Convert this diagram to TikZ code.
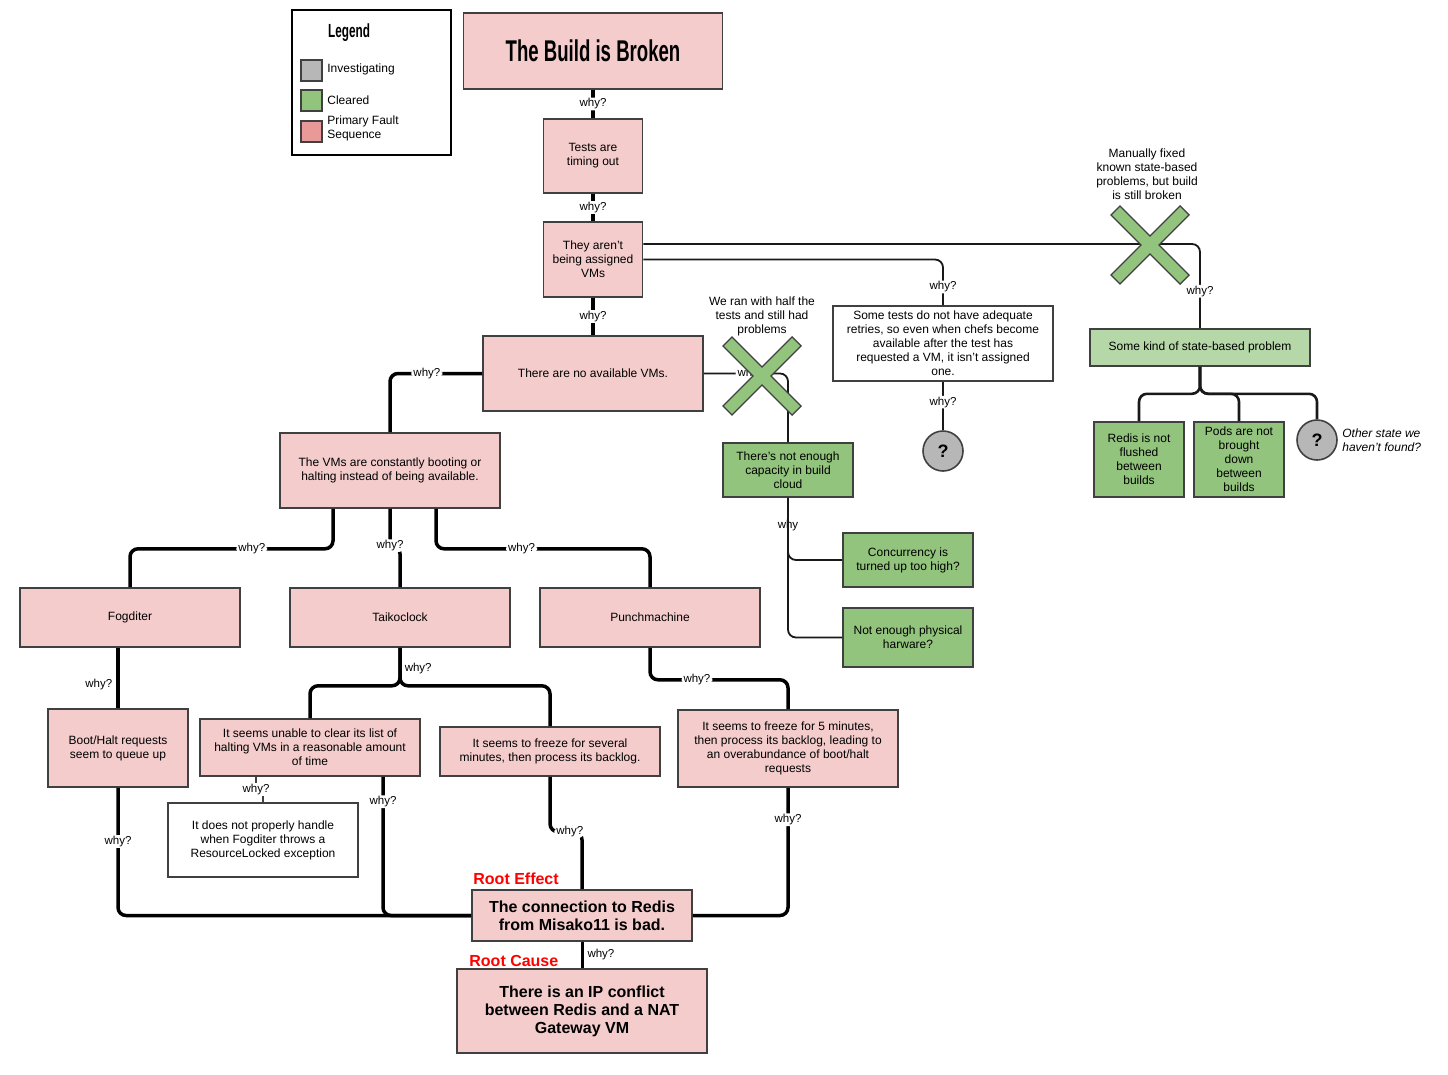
\documentclass[tikz,border=0pt]{standalone}
\usepackage{fontspec}
\setmainfont{Liberation Sans}
\newfontfamily\condfont[FakeStretch=0.62]{Liberation Sans}
\usepackage{tikz}
\usetikzlibrary{positioning}
\definecolor{faultpink}{HTML}{F4CCCC}
\definecolor{legendpink}{HTML}{EA9999}
\definecolor{clearedgreen}{HTML}{93C47D}
\definecolor{stategreen}{HTML}{B6D7A8}
\definecolor{investgrey}{HTML}{B7B7B7}
\definecolor{boxline}{HTML}{404040}
\definecolor{rootred}{HTML}{FF0000}
\def\boxfont{\fontsize{12}{14}\selectfont}
\def\whyfont{\fontsize{11.5}{14}\selectfont}
\def\boldfont{\bfseries\fontsize{16}{18}\selectfont}
\def\whyd{why?}
\tikzstyle{fault}=[draw=boxline, fill=faultpink, line width=1.6pt, align=center, inner sep=2pt, font=\boxfont]
\tikzstyle{cleared}=[fault, fill=clearedgreen]
\tikzstyle{plainbox}=[fault, fill=white]
\tikzstyle{unknown}=[circle, draw=boxline, fill=investgrey, line width=1.6pt, minimum size=40pt, inner sep=0pt, font=\bfseries\fontsize{18}{18}\selectfont]
\tikzstyle{why}=[fill=white, inner xsep=2pt, inner ysep=1pt, font=\whyfont]
\tikzstyle{mainline}=[draw=black, line width=3.5pt, rounded corners=8pt]
\tikzstyle{sideline}=[draw=black!90, line width=1.8pt, rounded corners=8pt]
\tikzstyle{swatch}=[draw=boxline, line width=1.6pt, minimum size=21pt, inner sep=0pt]
\begin{document}
\begin{tikzpicture}[x=1pt, y=-1pt, font=\boxfont]
  % \draw[help lines, step=50] (0,0) grid (1448,1074);
  \useasboundingbox (0,0) rectangle (1448,1074);

  % legend
  \node[draw=black, line width=1.6pt, minimum width=159pt, minimum height=145pt] (legend) at (371.5,82.5) {};
  \node[font=\condfont\bfseries\fontsize{19}{19}\selectfont] (legtitle) at (349,33) {Legend};
  \node[swatch, fill=investgrey] (swgrey) at (311.5,70.5) {};
  \node[swatch, fill=clearedgreen] (swgreen) at (311.5,100.5) {};
  \node[swatch, fill=legendpink] (swpink) at (311.5,131.5) {};
  \node[right=1pt of swgrey, yshift=1pt] (leginv) {Investigating};
  \node[right=1pt of swgreen] (legclr) {Cleared};
  \node[right=1pt of swpink, yshift=3pt, align=left] (legpri) {Primary Fault\\Sequence};

  % primary fault sequence
  \node[fault, minimum width=259pt, minimum height=76pt, font=\condfont\bfseries\fontsize{30}{34}\selectfont] (title) at (593,51) {The Build is Broken};
  \node[fault, minimum width=99pt, minimum height=74pt] (tests) at (593,156) {Tests are\\timing out};
  \node[fault, minimum width=99pt, minimum height=75pt] (aren) at (593,259.5) {They aren't\\being assigned\\VMs};
  \node[fault, minimum width=220pt, minimum height=75pt] (novms) at (593,373.5) {There are no available VMs.};
  \node[fault, minimum width=220pt, minimum height=75pt] (vms) at (390,470.5) {The VMs are constantly booting or\\halting instead of being available.};
  \node[fault, minimum width=220pt, minimum height=59pt] (fog) at (130,617.5) {Fogditer};
  \node[fault, minimum width=220pt, minimum height=59pt] (taik) at (400,617.5) {Taikoclock};
  \node[fault, minimum width=220pt, minimum height=59pt] (punch) at (650,617.5) {Punchmachine};
  \node[fault, minimum width=140pt, minimum height=78pt] (boot) at (118,748) {Boot/Halt requests\\seem to queue up};
  \node[fault, minimum width=220pt, minimum height=57pt] (unable) at (310,747.5) {It seems unable to clear its list of\\halting VMs in a reasonable amount\\of time};
  \node[plainbox, minimum width=190pt, minimum height=74pt] (locked) at (263,840) {It does not properly handle\\when Fogditer throws a\\ResourceLocked exception};
  \node[fault, minimum width=220pt, minimum height=49pt] (freeze) at (550,751.5) {It seems to freeze for several\\minutes, then process its backlog.};
  \node[fault, minimum width=220pt, minimum height=77pt] (five) at (788,748.5) {It seems to freeze for 5 minutes,\\then process its backlog, leading to\\an overabundance of boot/halt\\requests};
  \node[fault, minimum width=220pt, minimum height=51pt, font=\boldfont] (root) at (582,915.5) {The connection to Redis\\from Misako11 is bad.};
  \node[fault, minimum width=250pt, minimum height=84pt, font=\boldfont] (cause) at (582,1011) {There is an IP conflict\\between Redis and a NAT\\Gateway VM};
  \node[anchor=south west, inner sep=1pt, text=rootred, font=\bfseries\fontsize{16}{18}\selectfont] (effectlbl) at ([xshift=1pt,yshift=3pt]root.north west) {Root Effect};
  \node[anchor=south west, inner sep=1pt, text=rootred, font=\bfseries\fontsize{16}{18}\selectfont] (causelbl) at ([xshift=12pt,yshift=0pt]cause.north west) {Root Cause};

  % cleared and open branches
  \node[cleared, minimum width=130pt, minimum height=54pt] (capacity) at (788,470) {There's not enough\\capacity in build\\cloud};
  \node[cleared, minimum width=130pt, minimum height=54pt] (conc) at (908,560) {Concurrency is\\turned up too high?};
  \node[cleared, minimum width=130pt, minimum height=59pt] (phys) at (908,637.5) {Not enough physical\\harware?};
  \node[plainbox, minimum width=220pt, minimum height=75pt] (retries) at (943,343.5) {Some tests do not have adequate\\retries, so even when chefs become\\available after the test has\\requested a VM, it isn't assigned\\one.};
  \node[unknown] (qretries) at (943,451) {?};
  \node[fault, fill=stategreen, minimum width=220pt, minimum height=37pt] (statebox) at (1200,347.5) {Some kind of state-based problem};
  \node[cleared, minimum width=90pt, minimum height=75pt] (redis) at (1139,459.5) {Redis is not\\flushed\\between\\builds};
  \node[cleared, minimum width=90pt, minimum height=75pt] (pods) at (1239,459.5) {Pods are not\\brought\\down\\between\\builds};
  \node[unknown] (qstate) at (1317,440) {?};
  \node[right=1pt of qstate, align=left, font=\itshape\boxfont] (otherstate) {Other state we\\haven't found?};
  \node[align=center] (halfnote) at (762,316) {We ran with half the\\tests and still had\\problems};
  \node[align=center] (fixednote) at (1147,174) {Manually fixed\\known state-based\\problems, but build\\is still broken};

  \path[mainline] (title) edge node[why] (w1) {\whyd} (tests)
                  (tests) edge node[why] (w2) {\whyd} (aren)
                  (aren) edge node[why] (w3) {\whyd} (novms);
  \draw[mainline] (novms.west) -| node[why, pos=0.3] (w4) {\whyd} (vms.north);
  \draw[mainline] ([xshift=-57pt]vms.south) -- ++(0,40) -| node[why, pos=0.2] (w5) {\whyd} (fog.north);
  \draw[mainline] (vms.south) -- ++(0,37) node[why] (w6) {\whyd} -| (taik.north);
  \draw[mainline] ([xshift=46pt]vms.south) -- ++(0,40) -| node[why, pos=0.2] (w7) {\whyd} (punch.north);
  \draw[mainline] (boot.north |- fog.south) -- node[why, anchor=east, xshift=-2pt, pos=0.6] (w8) {\whyd} (boot.north);
  \draw[mainline] (boot.south) |- node[why, pos=0.21] (w9) {\whyd} (root.west);
  \draw[mainline] (taik.south) -- node[why, anchor=west, xshift=1pt, pos=0.55] (w10) {\whyd} ++(0,38) -| (unable.north);
  \draw[mainline] (taik.south) -- ++(0,38) -| (freeze.north);
  \draw[sideline, draw=boxline, rounded corners=0pt] ([xshift=-54pt]unable.south) -- ++(0,13) node[why] (w11) {\whyd} -| (locked.north);
  \draw[mainline] ([xshift=73pt]unable.south) |- node[why, pos=0.09] (w12) {\whyd} (root.west);
  \draw[mainline] (freeze.south) -- ++(0,55) -| node[why, pos=0.31] (w13) {\whyd} (root.north);
  \draw[mainline] (punch.south) -- ++(0,32) -| node[why, pos=0.17] (w14) {\whyd} (five.north);
  \draw[mainline] (five.south) |- node[why, pos=0.125] (w15) {\whyd} (root.east);
  \draw[mainline, line width=3pt] (root.south) -- node[why, anchor=west, xshift=2pt] (w16) {\whyd} (cause.north);

  \draw[sideline] (novms.east) -| node[why, pos=0.28] (w17) {\whyd} (capacity.north);
  \draw[sideline] (capacity.south) |- node[why, pos=0.22] (w18) {why} (conc.west);
  \draw[sideline] (capacity.south) |- (phys.west);
  \draw[sideline] ([yshift=15.5pt]aren.east) -| node[why, pos=0.78] (w19) {\whyd} (statebox.north);
  \draw[sideline] (aren.east) -| node[why, pos=0.8] (w20) {\whyd} (retries.north);
  \path[sideline] (retries) edge node[why, pos=0.42] (w21) {\whyd} (qretries);
  \draw[sideline, line width=2.6pt] (statebox.south) -- ++(0,27) -| (redis.north);
  \draw[sideline, line width=2.6pt] (statebox.south) -- ++(0,27) -| (pods.north);
  \draw[sideline, line width=2.6pt] (statebox.south) -- ++(0,27) -| (qstate.north);

  % crossed-out branches
  \coordinate (halfx) at (762,376);
  \coordinate (fixedx) at (1150,245);
  \foreach \c in {halfx, fixedx} {
    \draw[boxline, line width=14pt] ([shift={(-35,-35)}]\c) -- ([shift={(35,35)}]\c)
                                    ([shift={(-35,35)}]\c) -- ([shift={(35,-35)}]\c);
    \draw[clearedgreen, line width=11pt] ([shift={(-34,-34)}]\c) -- ([shift={(34,34)}]\c)
                                         ([shift={(-34,34)}]\c) -- ([shift={(34,-34)}]\c);
  }
\end{tikzpicture}
\end{document}
